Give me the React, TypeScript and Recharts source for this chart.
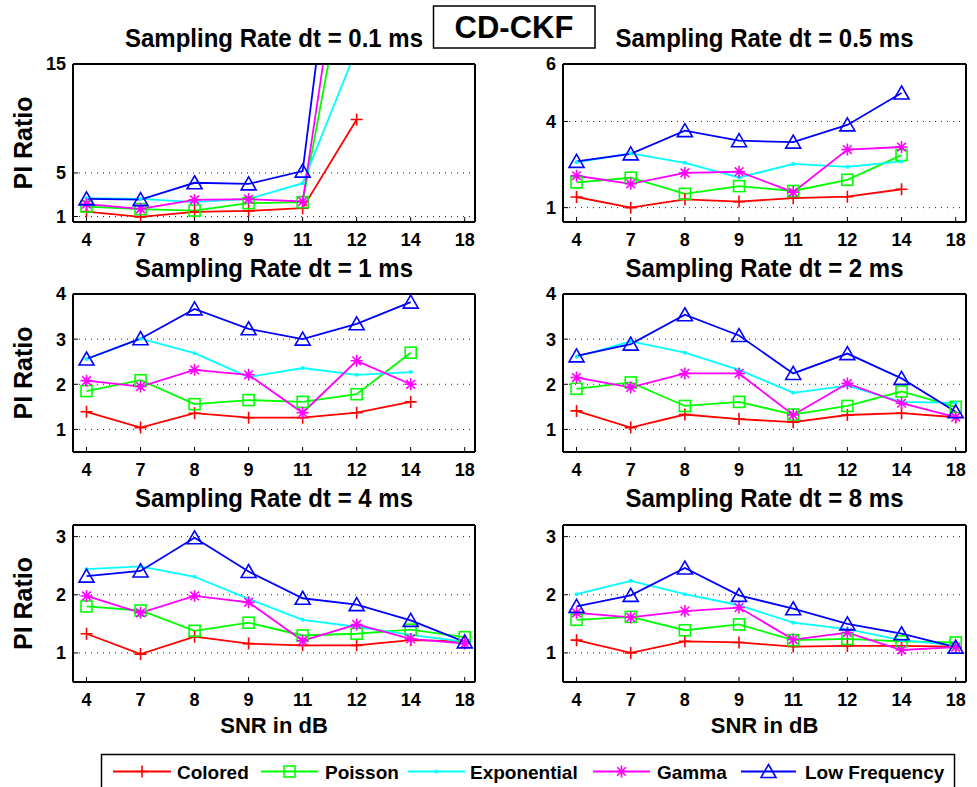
import React from 'react';
import { LineChart, Line, XAxis, YAxis, CartesianGrid } from 'recharts';

const FONT = '"Liberation Sans", Arial, Helvetica, sans-serif';

// SNR categories (equally spaced on the axis)
const snrLabels = ['4', '7', '8', '9', '11', '12', '14', '18'];
const snrIndex = [0, 1, 2, 3, 4, 5, 6, 7];

// dt = 0.1 ms
const dt01Colored = [1.46, 0.97, 1.43, 1.52, 1.77, 9.9, null, null];
const dt01Poisson = [1.92, 1.68, 1.55, 2.23, 2.32, 29, null, null];
const dt01Exponential = [2.69, 2.62, 2.32, 2.62, 4.06, 16.4, null, null];
const dt01Gamma = [2.14, 1.71, 2.53, 2.6, 2.38, 35.7, null, null];
const dt01LowFreq = [2.62, 2.55, 4.1, 4.0, 5.17, 44.7, null, null];

// dt = 0.5 ms
const dt05Colored = [1.37, 1.0, 1.29, 1.21, 1.33, 1.38, 1.64, null];
const dt05Poisson = [1.88, 2.04, 1.48, 1.75, 1.58, 1.97, 2.83, null];
const dt05Exponential = [2.58, 2.89, 2.56, 2.05, 2.52, 2.42, 2.61, null];
const dt05Gamma = [2.11, 1.83, 2.21, 2.25, 1.54, 3.02, 3.11, null];
const dt05LowFreq = [2.61, 2.87, 3.68, 3.33, 3.28, 3.88, 4.99, null];

// dt = 1 ms
const dt1Colored = [1.39, 1.04, 1.36, 1.26, 1.26, 1.37, 1.61, null];
const dt1Poisson = [1.85, 2.09, 1.56, 1.65, 1.61, 1.78, 2.7, null];
const dt1Exponential = [2.56, 3.01, 2.69, 2.16, 2.36, 2.21, 2.27, null];
const dt1Gamma = [2.08, 1.95, 2.32, 2.21, 1.37, 2.52, 2.0, null];
const dt1LowFreq = [2.56, 3.01, 3.67, 3.23, 3.0, 3.34, 3.82, null];

// dt = 2 ms
const dt2Colored = [1.41, 1.04, 1.33, 1.23, 1.16, 1.32, 1.36, 1.27];
const dt2Poisson = [1.9, 2.04, 1.52, 1.61, 1.33, 1.52, 1.84, 1.5];
const dt2Exponential = [2.61, 2.95, 2.7, 2.32, 1.81, 1.97, 1.61, 1.59];
const dt2Gamma = [2.15, 1.93, 2.24, 2.24, 1.32, 2.02, 1.58, 1.27];
const dt2LowFreq = [2.63, 2.89, 3.54, 3.08, 2.24, 2.68, 2.13, 1.39];

// dt = 4 ms
const dt4Colored = [1.33, 0.98, 1.28, 1.16, 1.13, 1.13, 1.22, 1.2];
const dt4Poisson = [1.8, 1.73, 1.38, 1.52, 1.3, 1.33, 1.4, 1.27];
const dt4Exponential = [2.44, 2.49, 2.31, 1.93, 1.57, 1.45, 1.31, 1.19];
const dt4Gamma = [1.98, 1.69, 1.98, 1.87, 1.21, 1.49, 1.24, 1.16];
const dt4LowFreq = [2.32, 2.41, 2.98, 2.4, 1.94, 1.83, 1.56, 1.19];

// dt = 8 ms
const dt8Colored = [1.22, 1.0, 1.2, 1.18, 1.11, 1.12, 1.12, 1.11];
const dt8Poisson = [1.57, 1.62, 1.39, 1.49, 1.22, 1.24, 1.2, 1.18];
const dt8Exponential = [2.01, 2.24, 2.01, 1.82, 1.52, 1.41, 1.22, 1.13];
const dt8Gamma = [1.69, 1.61, 1.72, 1.78, 1.23, 1.35, 1.05, 1.1];
const dt8LowFreq = [1.8, 1.99, 2.46, 1.99, 1.76, 1.5, 1.33, 1.1];

// y ticks / domains per panel
const yTicks01 = [1, 5, 15];
const yTicks05 = [1, 4, 6];
const yTicks12 = [1, 2, 3, 4];
const yTicks48 = [1, 2, 3];
const yDomain01 = [0.5, 15];
const yDomain05 = [0.5, 6];
const yDomain12 = [0.5, 4];
const yDomain48 = [0.5, 3.2];

const seriesNames = ['Colored', 'Poisson', 'Exponential', 'Gamma', 'Low Frequency'];
const seriesKeys = ['colored', 'poisson', 'exponential', 'gamma', 'lowFreq'];
const seriesColors = ['#ff0000', '#00ff00', '#00ffff', '#ff00ff', '#0000ff'];

const buildRows = (cols: (number | null)[][]) =>
  snrIndex.map(i => {
    const row: Record<string, number | null> = { idx: i };
    seriesKeys.forEach((k, s) => (row[k] = cols[s][i]));
    return row;
  });

// marker shapes, MATLAB style
function Marker({ kind, cx, cy, color }: { kind: string; cx: number; cy: number; color: string }) {
  const sw = 1.6;
  if (kind === 'colored')
    return <path d={`M${cx - 6},${cy}H${cx + 6}M${cx},${cy - 6}V${cy + 6}`} stroke={color} strokeWidth={sw} fill="none" />;
  if (kind === 'poisson')
    return <rect x={cx - 5.5} y={cy - 5.5} width={11} height={11} stroke={color} strokeWidth={sw} fill="none" />;
  if (kind === 'exponential') return <circle cx={cx} cy={cy} r={2} fill={color} stroke="none" />;
  if (kind === 'gamma')
    return (
      <path
        d={`M${cx - 6},${cy}H${cx + 6}M${cx},${cy - 6}V${cy + 6}M${cx - 4.3},${cy - 4.3}L${cx + 4.3},${cy + 4.3}M${cx - 4.3},${cy + 4.3}L${cx + 4.3},${cy - 4.3}`}
        stroke={color}
        strokeWidth={sw}
        fill="none"
      />
    );
  return (
    <path d={`M${cx},${cy - 7}L${cx + 7.5},${cy + 6}L${cx - 7.5},${cy + 6}Z`} stroke={color} strokeWidth={sw} fill="none" />
  );
}

const makeDot = (kind: string, color: string) => (props: any) => {
  const { cx, cy, index, value } = props;
  if (value == null || cy == null || cx == null || Number.isNaN(cy))
    return <g key={`d-${kind}-${index}`} />;
  return (
    <g key={`d-${kind}-${index}`}>
      <Marker kind={kind} cx={cx} cy={cy} color={color} />
    </g>
  );
};

const Y_AXIS_W = 70;
const X_AXIS_H = 30;
const X_DOMAIN = [-0.25, 7.19];
const tickStyle = { fill: '#000', fontSize: 18, fontWeight: 700, fontFamily: FONT };
const frame = { stroke: '#000', strokeWidth: 2 };

function Panel({
  left,
  top,
  plotW,
  plotH,
  rows,
  yDomain,
  yTicks,
}: {
  left: number;
  top: number;
  plotW: number;
  plotH: number;
  rows: Record<string, number | null>[];
  yDomain: number[];
  yTicks: number[];
}) {
  const width = Y_AXIS_W + plotW + 10;
  const height = 10 + plotH + X_AXIS_H;
  return (
    <div style={{ position: 'absolute', left: left - Y_AXIS_W, top: top - 10, width, height }}>
      <LineChart width={width} height={height} data={rows} margin={{ top: 9, right: 9, left: 0, bottom: 0 }}>
        <CartesianGrid vertical={false} stroke="#222" strokeDasharray="1 5" />
        <XAxis
          dataKey="idx"
          type="number"
          domain={X_DOMAIN}
          ticks={snrIndex}
          allowDataOverflow
          interval={0}
          height={X_AXIS_H}
          tickFormatter={(v: number) => snrLabels[v]}
          tick={tickStyle}
          tickSize={-5}
          tickMargin={16}
          tickLine={{ stroke: '#000' }}
          axisLine={frame}
        />
        <XAxis
          xAxisId="top"
          orientation="top"
          dataKey="idx"
          type="number"
          domain={X_DOMAIN}
          ticks={snrIndex}
          allowDataOverflow
          height={1}
          tick={false}
          tickSize={-5}
          tickLine={{ stroke: '#000' }}
          axisLine={frame}
        />
        <YAxis
          type="number"
          domain={yDomain}
          ticks={yTicks}
          allowDataOverflow
          interval={0}
          width={Y_AXIS_W}
          tick={tickStyle}
          tickSize={-5}
          tickMargin={12}
          tickLine={{ stroke: '#000' }}
          axisLine={frame}
        />
        <YAxis
          yAxisId="right"
          orientation="right"
          type="number"
          domain={yDomain}
          ticks={yTicks}
          allowDataOverflow
          width={1}
          tick={false}
          tickSize={-5}
          tickLine={{ stroke: '#000' }}
          axisLine={frame}
        />
        {seriesKeys.map((k, s) => (
          <Line
            key={k}
            type="linear"
            dataKey={k}
            stroke={seriesColors[s]}
            strokeWidth={1.8}
            dot={makeDot(k, seriesColors[s])}
            activeDot={false}
            isAnimationActive={false}
          />
        ))}
      </LineChart>
    </div>
  );
}

const COL_LEFT = [73, 563];
const COL_W = [402, 403];
const ROW_TOP = [64, 294, 525];
const ROW_H = [158, 158, 157];

const panels = [
  { title: 'Sampling Rate dt = 0.1 ms', col: 0, row: 0, cols: [dt01Colored, dt01Poisson, dt01Exponential, dt01Gamma, dt01LowFreq], yDomain: yDomain01, yTicks: yTicks01 },
  { title: 'Sampling Rate dt = 0.5 ms', col: 1, row: 0, cols: [dt05Colored, dt05Poisson, dt05Exponential, dt05Gamma, dt05LowFreq], yDomain: yDomain05, yTicks: yTicks05 },
  { title: 'Sampling Rate dt = 1 ms', col: 0, row: 1, cols: [dt1Colored, dt1Poisson, dt1Exponential, dt1Gamma, dt1LowFreq], yDomain: yDomain12, yTicks: yTicks12 },
  { title: 'Sampling Rate dt = 2 ms', col: 1, row: 1, cols: [dt2Colored, dt2Poisson, dt2Exponential, dt2Gamma, dt2LowFreq], yDomain: yDomain12, yTicks: yTicks12 },
  { title: 'Sampling Rate dt = 4 ms', col: 0, row: 2, cols: [dt4Colored, dt4Poisson, dt4Exponential, dt4Gamma, dt4LowFreq], yDomain: yDomain48, yTicks: yTicks48 },
  { title: 'Sampling Rate dt = 8 ms', col: 1, row: 2, cols: [dt8Colored, dt8Poisson, dt8Exponential, dt8Gamma, dt8LowFreq], yDomain: yDomain48, yTicks: yTicks48 },
];

const TITLE_BASE = [47, 277, 507];
// legend layout: [line start, line end, text start]
const legendPos = [
  [113, 171, 177],
  [261, 318, 325],
  [408, 465, 470],
  [593, 650, 657],
  [741, 796, 805],
];

export default function App() {
  return (
    <div style={{ position: 'absolute', left: 0, top: 0, width: 977, height: 787, background: '#fff', overflow: 'hidden' }}>
      {panels.map(p => (
        <Panel
          key={p.title}
          left={COL_LEFT[p.col]}
          top={ROW_TOP[p.row]}
          plotW={COL_W[p.col]}
          plotH={ROW_H[p.row]}
          rows={buildRows(p.cols)}
          yDomain={p.yDomain}
          yTicks={p.yTicks}
        />
      ))}

      <svg width={977} height={787} style={{ position: 'absolute', left: 0, top: 0, pointerEvents: 'none' }} fontFamily={FONT} fontWeight={700}>
        {/* subplot titles, slightly stretched like the original export */}
        {panels.map(p => (
          <text
            key={p.title}
            transform={`translate(${COL_LEFT[p.col] + COL_W[p.col] / 2}, ${TITLE_BASE[p.row]}) scale(1, 1.1)`}
            textAnchor="middle"
            fontSize={24}
            fill="#000"
          >
            {p.title}
          </text>
        ))}

        {/* y labels on left column */}
        {ROW_TOP.map((t, r) => (
          <text
            key={r}
            transform={`translate(23, ${t + ROW_H[r] / 2}) rotate(-90)`}
            textAnchor="middle"
            dominantBaseline="central"
            fontSize={25}
            fill="#000"
          >
            PI Ratio
          </text>
        ))}

        {/* x labels */}
        {COL_LEFT.map((l, c) => (
          <text key={c} x={l + COL_W[c] / 2} y={733} textAnchor="middle" fontSize={22} fill="#000">
            SNR in dB
          </text>
        ))}

        {/* main title */}
        <rect x={433.5} y={6} width={161.5} height={42} fill="#fff" stroke="#000" strokeWidth={1.5} />
        <text x={514} y={38} textAnchor="middle" fontSize={31} fill="#000">
          CD-CKF
        </text>

        {/* legend */}
        <rect x={101.5} y={754.5} width={853} height={50} fill="#fff" stroke="#000" strokeWidth={1.5} />
        {seriesNames.map((n, s) => {
          const [x1, x2, tx] = legendPos[s];
          const cy = 771.5;
          return (
            <g key={n}>
              <line x1={x1} x2={x2} y1={cy} y2={cy} stroke={seriesColors[s]} strokeWidth={1.8} />
              <Marker kind={seriesKeys[s]} cx={(x1 + x2) / 2} cy={cy} color={seriesColors[s]} />
              <text x={tx} y={cy + 7} fontSize={19} fill="#000">
                {n}
              </text>
            </g>
          );
        })}
      </svg>
    </div>
  );
}
